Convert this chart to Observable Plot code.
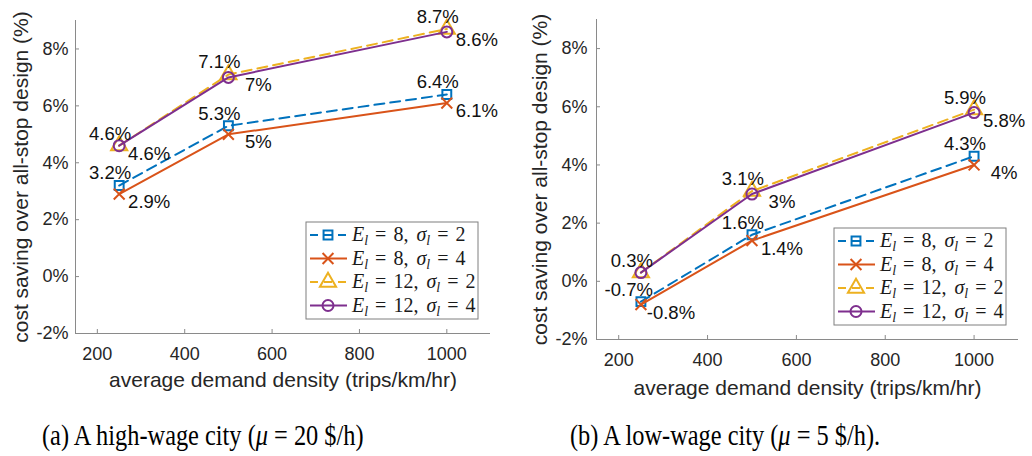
<!DOCTYPE html>
<html>
<head>
<meta charset="utf-8">
<script src="https://cdn.jsdelivr.net/npm/d3@7"></script>
<script src="https://cdn.jsdelivr.net/npm/@observablehq/plot@0.6"></script>
<style>
  body { margin: 0; background: #fff; }
  #page { position: relative; width: 1032px; height: 456px; overflow: hidden; background: #fff; }
  .panel { position: absolute; top: 0; }
  .caption {
    position: absolute; top: 421px;
    font-family: "Liberation Serif", "Times New Roman", serif;
    font-size: 29px; line-height: 1; color: #000; white-space: nowrap;
    transform-origin: left center; transform: scaleX(0.84);
  }
  .caption i { font-style: italic; }
</style>
</head>
<body>
<div id="page"></div>
<script>
// Average demand density (trips/km/hr)
const densities = [250, 500, 1000];

// Cost saving over the all-stop design (%), high-wage city (mu = 20 $/h)
const highE8s2  = [3.2, 5.3, 6.4];
const highE8s4  = [2.9, 5.0, 6.1];
const highE12s2 = [4.6, 7.1, 8.7];
const highE12s4 = [4.6, 7.0, 8.6];

// Cost saving over the all-stop design (%), low-wage city (mu = 5 $/h)
const lowE8s2  = [-0.7, 1.6, 4.3];
const lowE8s4  = [-0.8, 1.4, 4.0];
const lowE12s2 = [0.3, 3.1, 5.9];
const lowE12s4 = [0.3, 3.0, 5.8];

// Series parameters (E_l, sigma_l)
const seriesE = [8, 8, 12, 12];
const seriesSigma = [2, 4, 2, 4];

const xTicks = [200, 400, 600, 800, 1000];
const yTicks = [-2, 0, 2, 4, 6, 8];
const xDomain = [150, 1100];
const yDomain = [-2, 9];

const xTitle = "average demand density (trips/km/hr)";
const yTitle = "cost saving over all-stop design (%)";

// Line/marker styling per series
const styles = [
  {color: "#0072BD", dash: "10,6", symbol: "square",   r: 5,   place: "above"},
  {color: "#D95319", dash: null,   symbol: "times",    r: 5,   place: "below"},
  {color: "#EDB120", dash: "10,6", symbol: "triangle", r: 6,   place: "above"},
  {color: "#7E2F8E", dash: null,   symbol: "circle",   r: 5.5, place: "below"}
];

const axisColor = "#8a8a8a";
const textColor = "#262626";
const sansFont = "'Liberation Sans', Arial, Helvetica, sans-serif";
const serifFont = "'Liberation Serif', 'Times New Roman', serif";

function panel(series, m) {
  const W = 516, H = 400;
  const innerW = W - m.left - m.right;
  const innerH = H - m.top - m.bottom;
  const rows = series.flatMap((vals, i) =>
    vals.map((v, j) => ({series: i, x: densities[j], y: v})));
  const hidden = m.hiddenLabels ?? [];
  const labelled = rows.filter(r => !hidden.some(h => h.series === r.series && h.x === r.x));

  const marks = [
    // inward tick marks
    Plot.ruleX(xTicks, {stroke: axisColor, insetTop: innerH - 4}),
    Plot.ruleY(yTicks, {stroke: axisColor, insetRight: innerW - 4}),
    // axis lines (left and bottom only)
    Plot.ruleY([yDomain[0]], {stroke: axisColor}),
    Plot.ruleX([xDomain[0]], {stroke: axisColor}),
    Plot.axisX(xTicks, {tickSize: 0, tickPadding: m.xPad, fontSize: 18, fill: textColor, label: null,
      tickFormat: d => String(d)}),
    Plot.axisY(yTicks, {tickSize: 0, tickPadding: m.yPad, fontSize: 18, fill: textColor, label: null,
      tickFormat: d => d + "%"}),
    Plot.text([xTitle], {frameAnchor: "bottom", textAnchor: "middle", lineAnchor: "middle",
      dy: m.xTitleDy, fontSize: 21, fill: textColor}),
    Plot.text([yTitle], {frameAnchor: "left", textAnchor: "middle", lineAnchor: "middle",
      rotate: -90, dx: m.yTitleDx, fontSize: 21, fill: textColor})
  ];

  styles.forEach((s, i) => {
    const d = rows.filter(r => r.series === i);
    marks.push(Plot.line(d, {x: "x", y: "y", stroke: s.color, strokeWidth: 2,
      strokeDasharray: s.dash ?? undefined}));
    marks.push(Plot.dot(d, {x: "x", y: "y", symbol: s.symbol, r: s.r, stroke: s.color,
      strokeWidth: 2, fill: "none"}));
  });
  styles.forEach((s, i) => {
    const d = labelled.filter(r => r.series === i);
    marks.push(Plot.text(d, {x: "x", y: "y", text: r => r.y + "%", fontSize: 18.5, fill: "#111",
      textAnchor: s.place === "above" ? "end" : "middle",
      dx: s.place === "above" ? 12 : 30,
      dy: s.place === "above" ? -12 : 8}));
  });

  const svg = Plot.plot({
    width: W, height: H,
    marginLeft: m.left, marginRight: m.right, marginTop: m.top, marginBottom: m.bottom,
    style: {fontFamily: sansFont, background: "#fff", overflow: "visible"},
    x: {domain: xDomain},
    y: {domain: yDomain},
    marks
  });

  // legend box in the lower-right corner of the frame
  const lw = 172, lh = 97;
  const lx = W - m.right - 12 - lw;
  const ly = H - m.bottom - 14 - lh;
  const g = d3.select(svg).append("g").attr("transform", `translate(${lx},${ly})`);
  g.append("rect").attr("width", lw).attr("height", lh)
    .attr("fill", "#fff").attr("stroke", "#7f7f7f").attr("stroke-width", 1);
  const symbolTypes = {square: d3.symbolSquare, times: d3.symbolTimes, triangle: d3.symbolTriangle, circle: d3.symbolCircle};
  styles.forEach((s, i) => {
    const cy = 13 + i * 23.5;
    g.append("line").attr("x1", 4).attr("x2", 41).attr("y1", cy).attr("y2", cy)
      .attr("stroke", s.color).attr("stroke-width", 2)
      .attr("stroke-dasharray", s.dash ? "8,6" : null);
    g.append("path").attr("transform", `translate(22,${cy})`)
      .attr("d", d3.symbol(symbolTypes[s.symbol], Math.PI * s.r * s.r)())
      .attr("fill", "none").attr("stroke", s.color).attr("stroke-width", 2);
    const t = g.append("text").attr("x", 46).attr("y", cy + 6)
      .attr("text-anchor", "start")
      .attr("font-family", serifFont)
      .attr("font-size", 20).attr("fill", "#1a1a1a").style("white-space", "pre");
    t.append("tspan").attr("font-style", "italic").text("E");
    t.append("tspan").attr("font-style", "italic").attr("font-size", 14).attr("dy", 4).text("l");
    t.append("tspan").attr("dy", -4).attr("dx", 7).text("=");
    t.append("tspan").attr("dx", 7).text(seriesE[i] + ",");
    t.append("tspan").attr("dx", 8).attr("font-style", "italic").text("σ");
    t.append("tspan").attr("font-style", "italic").attr("font-size", 14).attr("dy", 4).text("l");
    t.append("tspan").attr("dy", -4).attr("dx", 7).text("=");
    t.append("tspan").attr("dx", 7).text(String(seriesSigma[i]));
  });
  return svg;
}

const page = document.getElementById("page");

const left = panel([highE8s2, highE8s4, highE12s2, highE12s4],
  {left: 75, right: 26, top: 20, bottom: 67, xPad: 14, yPad: 7, xTitleDy: 47, yTitleDx: -54});
left.classList.add("panel");
left.style.left = "0px";
page.appendChild(left);

// the second 0.3% label at 250 trips/km/hr coincides with the first one and is left out
const right = panel([lowE8s2, lowE8s4, lowE12s2, lowE12s4],
  {left: 80, right: 14, top: 19, bottom: 61, xPad: 14, yPad: 9, xTitleDy: 49, yTitleDx: -56,
   hiddenLabels: [{series: 3, x: 250}]});
right.classList.add("panel");
right.style.left = "516px";
page.appendChild(right);

const capA = document.createElement("div");
capA.className = "caption";
capA.style.left = "42px";
capA.innerHTML = "(a) A high-wage city (<i>μ</i> = 20 $/h)";
page.appendChild(capA);

const capB = document.createElement("div");
capB.className = "caption";
capB.style.left = "570px";
capB.innerHTML = "(b) A low-wage city (<i>μ</i> = 5 $/h).";
page.appendChild(capB);
</script>
</body>
</html>
